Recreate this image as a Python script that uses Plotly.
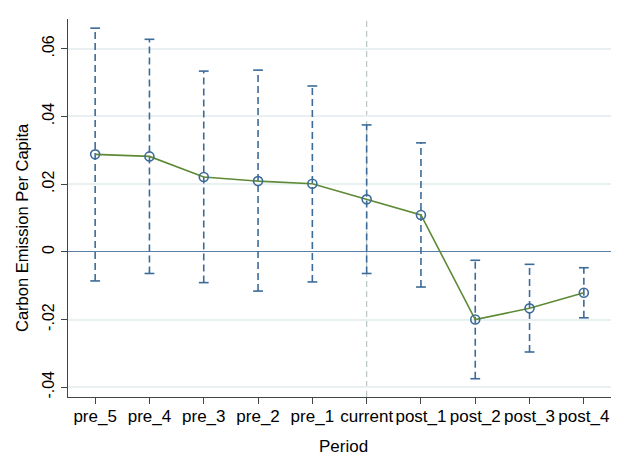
import plotly.graph_objects as go

periods = ["pre_5", "pre_4", "pre_3", "pre_2", "pre_1", "current",
           "post_1", "post_2", "post_3", "post_4"]
coef = [0.0288, 0.0282, 0.0221, 0.0209, 0.0201, 0.0155, 0.0109, -0.0200, -0.0167, -0.0121]
ci_upper = [0.0661, 0.0628, 0.0534, 0.0537, 0.0490, 0.0375, 0.0322, -0.0025, -0.0037, -0.0047]
ci_lower = [-0.0086, -0.0064, -0.0091, -0.0116, -0.0089, -0.0064, -0.0104, -0.0375, -0.0296, -0.0195]
ytick_vals = [-0.04, -0.02, 0, 0.02, 0.04, 0.06]
ytick_text = ["-.04", "-.02", "0", ".02", ".04", ".06"]
event_period = "current"

xpos = list(range(1, len(periods) + 1))
BLUE = "#3d6b99"
GREEN = "#5e8a36"
FONT = "Liberation Sans, Arial, sans-serif"

# page is 619x457 and the browser body has an 8px margin
PAGE_W, PAGE_H, OFF = 619, 457, 8
W, H = PAGE_W - 2 * OFF, PAGE_H - OFF
# target page-pixel frame of the plot area
P_LEFT, P_TOP, P_BOTTOM = 68, 19, 397
ML, MR, MT, MB = P_LEFT - OFF, 0, P_TOP - OFF, PAGE_H - P_BOTTOM
plot_w = W - ML - MR
plot_h = H - MT - MB

fig = go.Figure()

# dashed CI bars
ex, ey = [], []
for x, lo, hi in zip(xpos, ci_lower, ci_upper):
    ex += [x, x, None]
    ey += [lo, hi, None]
fig.add_trace(go.Scatter(x=ex, y=ey, mode="lines",
                         line=dict(color=BLUE, width=1.6, dash="7px,4px"),
                         hoverinfo="skip", showlegend=False))
# caps
fig.add_trace(go.Scatter(x=xpos + xpos, y=ci_upper + ci_lower, mode="markers",
                         marker=dict(symbol="line-ew", size=7, color=BLUE,
                                     line=dict(color=BLUE, width=1.6)),
                         hoverinfo="skip", showlegend=False))
# coefficient line
fig.add_trace(go.Scatter(x=xpos, y=coef, mode="lines",
                         line=dict(color=GREEN, width=1.6),
                         showlegend=False))
# markers
fig.add_trace(go.Scatter(x=xpos, y=coef, mode="markers",
                         marker=dict(symbol="circle-open", size=9, color=BLUE,
                                     line=dict(color=BLUE, width=1.6)),
                         showlegend=False))

ev_x = xpos[periods.index(event_period)]
fig.add_shape(type="line", xref="x", yref="paper", x0=ev_x, x1=ev_x, y0=0, y1=1,
              line=dict(color="#b9c6c6", width=1.2, dash="6px,4px"), layer="below")

fig.update_layout(
    width=W, height=H,
    margin=dict(l=ML, r=MR, t=MT, b=MB, autoexpand=False),
    paper_bgcolor="white", plot_bgcolor="white",
    font=dict(family=FONT, color="black"),
    showlegend=False,
)
fig.update_xaxes(
    range=[0.5, 10.5], tickvals=xpos, ticktext=periods,
    automargin=False, ticklabeloverflow="allow",
    showgrid=False, zeroline=False,
    showline=True, linecolor="#444444", linewidth=1.3,
    ticks="outside", ticklen=6, tickwidth=1.2, tickcolor="#444444",
    tickfont=dict(size=17, family=FONT), ticklabelstandoff=-3,
)
fig.update_yaxes(
    range=[-0.0429, 0.0688], tickvals=ytick_vals, ticktext=ytick_text,
    tickangle=-90, automargin=False, ticklabeloverflow="allow",
    showgrid=True, gridcolor="#e8f0f1", gridwidth=1.5,
    zeroline=True, zerolinecolor="#5b7fa6", zerolinewidth=1.3,
    showline=True, linecolor="#444444", linewidth=1.3,
    ticks="outside", ticklen=6, tickwidth=1.2, tickcolor="#444444",
    tickfont=dict(size=16, family=FONT),
)

fig.add_annotation(text="Carbon Emission Per Capita", xref="paper", yref="paper",
                   x=(22 - P_LEFT) / plot_w, y=(P_BOTTOM - 228) / plot_h,
                   textangle=-90, showarrow=False, font=dict(size=16.5, family=FONT),
                   xanchor="center", yanchor="middle")
fig.add_annotation(text="Period", xref="paper", yref="paper",
                   x=(343.5 - P_LEFT) / plot_w, y=(P_BOTTOM - 446.7) / plot_h,
                   showarrow=False, font=dict(size=17, family=FONT),
                   xanchor="center", yanchor="middle")

fig.write_html("out.html")
